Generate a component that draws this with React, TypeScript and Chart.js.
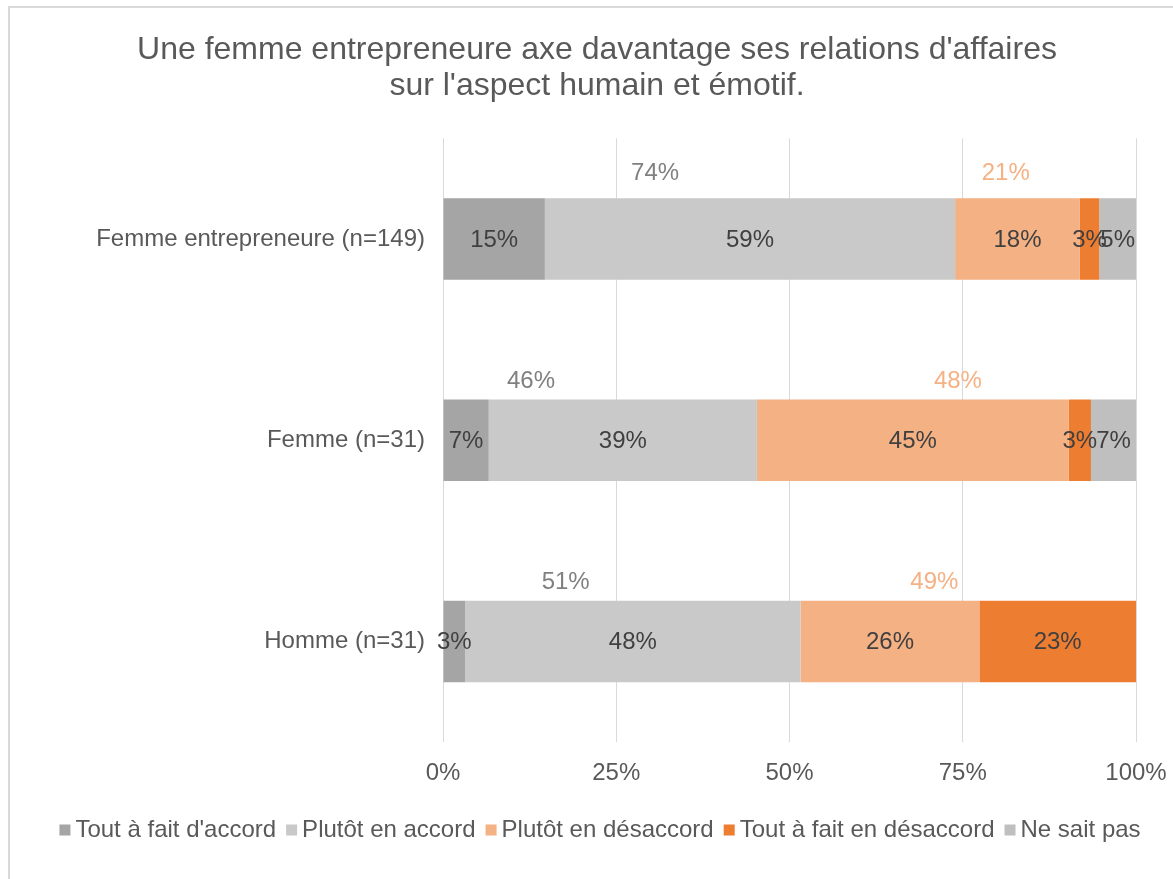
import React, { useEffect, useRef } from "react";
import { Chart, registerables } from "chart.js";

Chart.register(...registerables);

const categories = ["Femme entrepreneure (n=149)", "Femme (n=31)", "Homme (n=31)"];
const seriesNames = [
  "Tout à fait d'accord",
  "Plutôt en accord",
  "Plutôt en désaccord",
  "Tout à fait en désaccord",
  "Ne sait pas",
];
const toutAFaitDAccord = [14.7, 6.6, 3.2];
const plutotEnAccord = [59.2, 38.7, 48.4];
const plutotEnDesaccord = [18.0, 45.0, 25.8];
const toutAFaitEnDesaccord = [2.8, 3.2, 22.6];
const neSaitPas = [5.3, 6.5, 0];
const totalAccord = [74, 46, 51];
const totalDesaccord = [21, 48, 49];
const xTicks = [0, 25, 50, 75, 100];

const seriesColors = ["#A5A5A5", "#C9C9C9", "#F4B183", "#ED7D31", "#BFBFBF"];
const FONT = "'Liberation Sans', Arial, sans-serif";

// where the summary labels sit along the axis (in % of the axis) and above the bar (px)
const accordLabelAt = [30.6, 12.7, 17.7];
const desaccordLabelAt = [81.2, 74.3, 70.9];
const summaryLift = [66, 59, 59];

const PAD_LEFT = 58;
const PLOT_LEFT = 443;

const framePlugin = {
  id: "frame",
  beforeDraw(chart: any) {
    const { ctx, width, height } = chart;
    ctx.save();
    ctx.fillStyle = "#ffffff";
    ctx.fillRect(0, 0, width, height);
    ctx.fillStyle = "#D9D9D9";
    ctx.fillRect(8, 6, 2, height - 6);
    ctx.fillRect(8, 6, width - 8, 2);
    ctx.restore();
  },
};

const bottomLegendPlugin = {
  id: "bottomLegend",
  afterDraw(chart: any) {
    const { ctx } = chart;
    const box = 11;
    const gapText = 5;
    const gapItem = 10;
    const centerX = 600;
    const centerY = 830;
    ctx.save();
    ctx.font = `24px ${FONT}`;
    ctx.textBaseline = "middle";
    ctx.textAlign = "left";
    const items = chart.data.datasets.map((ds: any) => ({
      text: ds.label as string,
      color: ds.backgroundColor as string,
      w: ctx.measureText(ds.label).width,
    }));
    const total =
      items.reduce((s: number, it: any) => s + box + gapText + it.w, 0) + gapItem * (items.length - 1);
    let x = centerX - total / 2;
    items.forEach((it: any) => {
      ctx.fillStyle = it.color;
      ctx.fillRect(x, centerY - box / 2, box, box);
      x += box + gapText;
      ctx.fillStyle = "#595959";
      ctx.fillText(it.text, x, centerY);
      x += it.w + gapItem;
    });
    ctx.restore();
  },
};

const valueLabelPlugin = {
  id: "valueLabels",
  afterDatasetsDraw(chart: any) {
    const { ctx } = chart;
    ctx.save();
    ctx.font = `24px ${FONT}`;
    ctx.fillStyle = "#404040";
    ctx.textAlign = "center";
    ctx.textBaseline = "middle";
    chart.data.datasets.forEach((ds: any, di: number) => {
      const meta = chart.getDatasetMeta(di);
      meta.data.forEach((el: any, i: number) => {
        const v = ds.data[i];
        if (!v) return;
        const cx = (el.x + el.base) / 2;
        ctx.fillText(Math.round(v) + "%", cx, el.y + 1);
      });
    });
    // summary labels
    const xs = chart.scales.x;
    const ys = chart.scales.y;
    categories.forEach((_, i) => {
      const y = ys.getPixelForValue(i) - summaryLift[i];
      ctx.fillStyle = "#808080";
      ctx.fillText(totalAccord[i] + "%", xs.getPixelForValue(accordLabelAt[i]), y);
      ctx.fillStyle = "#F4B183";
      ctx.fillText(totalDesaccord[i] + "%", xs.getPixelForValue(desaccordLabelAt[i]), y);
    });
    ctx.restore();
  },
};

export default function App() {
  const ref = useRef<HTMLCanvasElement>(null);
  useEffect(() => {
    document.body.style.margin = "0";
    const seriesData = [toutAFaitDAccord, plutotEnAccord, plutotEnDesaccord, toutAFaitEnDesaccord, neSaitPas];
    const chart = new Chart(ref.current!, {
      type: "bar",
      data: {
        labels: categories,
        datasets: seriesNames.map((name, i) => ({
          label: name,
          data: seriesData[i],
          backgroundColor: seriesColors[i],
          borderWidth: 0,
          barPercentage: 0.405,
          categoryPercentage: 1,
        })),
      },
      options: {
        indexAxis: "y",
        animation: false,
        responsive: false,
        layout: { padding: { top: 32, right: 37, bottom: 71, left: PAD_LEFT } },
        scales: {
          x: {
            stacked: true,
            min: 0,
            max: 100,
            afterBuildTicks: (scale: any) => {
              scale.ticks = xTicks.map((v) => ({ value: v }));
            },
            afterFit: (scale: any) => {
              scale.height = 66;
              scale.paddingLeft = 0;
              scale.paddingRight = 0;
            },
            grid: { color: "#D9D9D9", lineWidth: 1, drawTicks: false },
            border: { display: false },
            ticks: {
              padding: 17,
              color: "#595959",
              font: { family: FONT, size: 24 },
              callback: (v: any) => v + "%",
            },
          },
          y: {
            stacked: true,
            afterFit: (scale: any) => {
              scale.width = PLOT_LEFT - PAD_LEFT;
            },
            grid: { display: false },
            border: { display: false },
            ticks: {
              padding: 10,
              color: "#595959",
              font: { family: FONT, size: 24 },
            },
          },
        },
        plugins: {
          title: {
            display: true,
            text: [
              "Une femme entrepreneure axe davantage ses relations d'affaires",
              "sur l'aspect humain et émotif.",
            ],
            color: "#595959",
            font: { family: FONT, size: 32, weight: "normal", lineHeight: 1.13 },
            padding: { top: 0, bottom: 34 },
          },
          legend: { display: false },
          tooltip: { enabled: false },
        },
      },
      plugins: [framePlugin, valueLabelPlugin, bottomLegendPlugin],
    } as any);
    return () => chart.destroy();
  }, []);
  return (
    <div style={{ width: 1173, height: 879 }}>
      <canvas ref={ref} width={1173} height={879} style={{ display: "block" }} />
    </div>
  );
}
